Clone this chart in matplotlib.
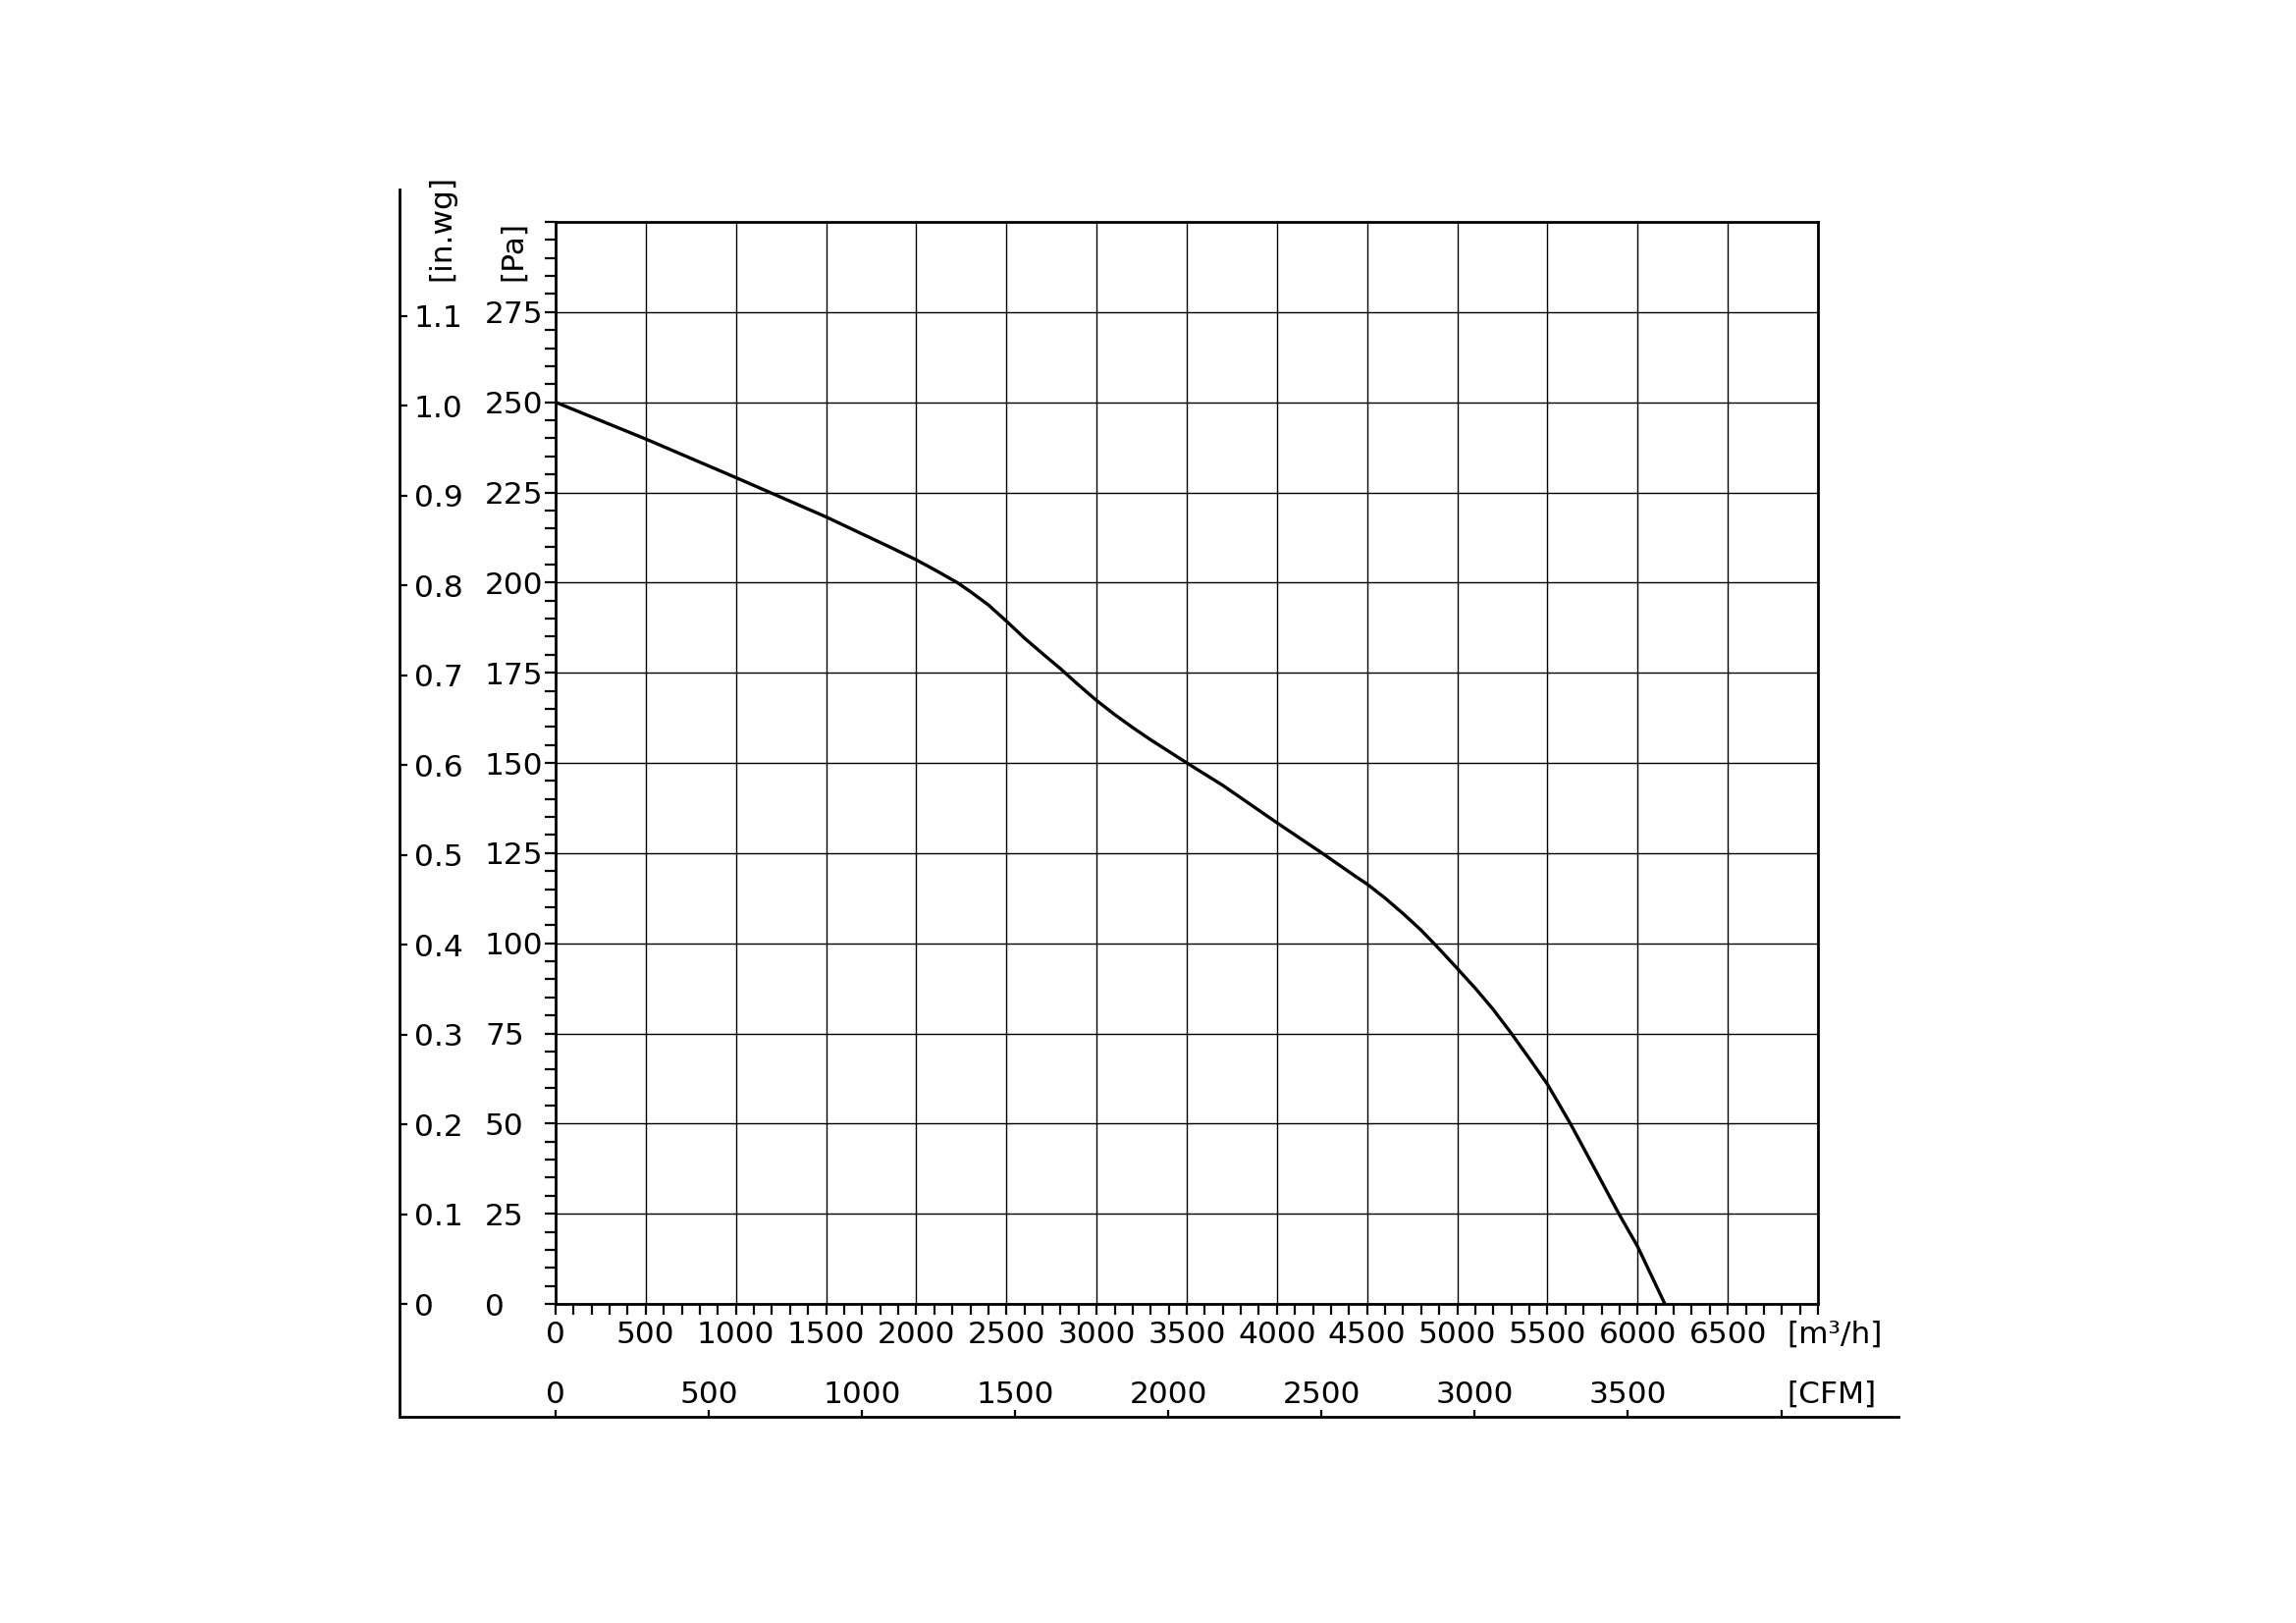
import matplotlib
matplotlib.use("Agg")
import matplotlib.pyplot as plt
from matplotlib.lines import Line2D
from matplotlib.ticker import MultipleLocator, FixedLocator, FuncFormatter

plt.rcParams['font.family'] = ['DejaVu Sans']

# ---- data ----
flow_m3h = [0, 500, 1000, 1500, 1864, 2000, 2100, 2227, 2300, 2400, 2500, 2600,
            2700, 2800, 2900, 3000, 3100, 3200, 3300, 3400, 3500, 3699, 4000,
            4250, 4431, 4500, 4600, 4700, 4800, 4900, 5000, 5100, 5200, 5300,
            5400, 5500, 5627, 5750, 5896, 6000, 6151]
pressure_pa = [250, 239.8, 229.1, 218.2, 209.6, 206.3, 203.6, 200, 197.5, 193.8,
               189.3, 184.6, 180.3, 176.1, 171.6, 167.3, 163.4, 159.8, 156.4,
               153.2, 150, 143.8, 133.4, 125, 118.7, 116.4, 112.5, 108.2, 103.6,
               98.4, 93.0, 87.5, 81.6, 75, 68.0, 60.9, 50, 38.6, 25, 15.9, 0]

x_ticks_m3h = list(range(0, 7001, 500))
y_ticks_pa = list(range(0, 301, 25))
inwg_ticks = [0, 0.1, 0.2, 0.3, 0.4, 0.5, 0.6, 0.7, 0.8, 0.9, 1.0, 1.1]
cfm_ticks = [0, 500, 1000, 1500, 2000, 2500, 3000, 3500, 4000]

PA_PER_INWG = 249.09
M3H_PER_CFM = 1.699

W, H = 2339, 1653
FS = 22.5
PX = 72 / 100  # points per pixel

fig = plt.figure(figsize=(W / 100, H / 100), dpi=100)
ax = fig.add_axes([566 / W, 1 - 1328 / H, (1852 - 566) / W, (1328 - 226) / H])

ax.plot(flow_m3h, pressure_pa, color='black', lw=2.4, solid_capstyle='butt',
        solid_joinstyle='round', zorder=3)

ax.set_xlim(0, 7000)
ax.set_ylim(0, 300)

ax.xaxis.set_major_locator(FixedLocator(x_ticks_m3h))
ax.xaxis.set_minor_locator(MultipleLocator(100))
ax.yaxis.set_major_locator(FixedLocator(y_ticks_pa))
ax.yaxis.set_minor_locator(MultipleLocator(5))

ax.xaxis.set_major_formatter(FuncFormatter(lambda v, p: '' if v >= 7000 else f"{int(v)}"))
ax.yaxis.set_major_formatter(FuncFormatter(lambda v, p: '' if v >= 300 else f"{int(v)}"))

ax.grid(True, which='major', color='black', lw=1.0)
for s in ax.spines.values():
    s.set_linewidth(2.0)
    s.set_color('black')

tick_len = 11 * PX
ax.tick_params(axis='both', which='both', direction='out', length=tick_len, width=1.6,
               colors='black', labelsize=FS)
ax.tick_params(axis='x', which='major', pad=6 * PX)
# left-aligned Pa labels starting at x ~ 494 px
ax.tick_params(axis='y', which='major', pad=(566 - 11 - 494) * PX)
for lab in ax.get_yticklabels():
    lab.set_horizontalalignment('left')

# ---- in.wg secondary axis ----
loc_y = (407 - 566) / (1852 - 566)
sy = ax.secondary_yaxis(loc_y, functions=(lambda p: p / PA_PER_INWG, lambda w: w * PA_PER_INWG))
sy.set_alignment('right')
sy.yaxis.set_major_locator(FixedLocator(inwg_ticks))
sy.yaxis.set_major_formatter(FuncFormatter(lambda v, p: '0' if abs(v) < 1e-9 else f"{v:.1f}"))
sy.tick_params(axis='y', which='major', direction='out', length=8 * PX, width=1.6,
               labelsize=FS, pad=7 * PX, colors='black')
sy.yaxis.set_minor_locator(FixedLocator([]))
for s in sy.spines.values():
    s.set_visible(False)

# ---- CFM secondary axis ----
loc_x = -(1443 - 1328) / (1328 - 226)
sx = ax.secondary_xaxis(loc_x, functions=(lambda q: q / M3H_PER_CFM, lambda c: c * M3H_PER_CFM))
sx.set_alignment('top')
sx.xaxis.set_major_locator(FixedLocator(cfm_ticks))
sx.xaxis.set_major_formatter(FuncFormatter(lambda v, p: '' if v >= 4000 else f"{int(round(v))}"))
sx.tick_params(axis='x', which='major', direction='out', length=7 * PX, width=1.6,
               labelsize=FS, pad=1.0 * PX, colors='black')
sx.xaxis.set_minor_locator(FixedLocator([]))
for s in sx.spines.values():
    s.set_visible(False)

# ---- unit labels ----
x_unit = (1820 - 566) / (1286 / 7000)
ax.annotate("[m³/h]", xy=(x_unit, 0), xycoords=('data', 'axes fraction'),
            xytext=(0, -(11 + 6) * PX), textcoords='offset points',
            ha='left', va='top', fontsize=FS)
ax.annotate("[CFM]", xy=(x_unit, loc_x), xycoords=('data', 'axes fraction'),
            xytext=(0, (7 + 1.0) * PX), textcoords='offset points',
            ha='left', va='bottom', fontsize=FS)

fig.text(450 / W, 1 - 286 / H, "[in.wg]", rotation=90, ha='center', va='bottom', fontsize=FS)
fig.text(523 / W, 1 - 286 / H, "[Pa]", rotation=90, ha='center', va='bottom', fontsize=FS)

# ---- outer frame lines ----
fig.add_artist(Line2D([407 / W, 407 / W, 1934 / W], [1 - 193 / H, 1 - 1443 / H, 1 - 1443 / H],
                      transform=fig.transFigure, color='black', lw=2.0,
                      solid_joinstyle='miter'))

fig.savefig("out.png", dpi=100, facecolor='white')
